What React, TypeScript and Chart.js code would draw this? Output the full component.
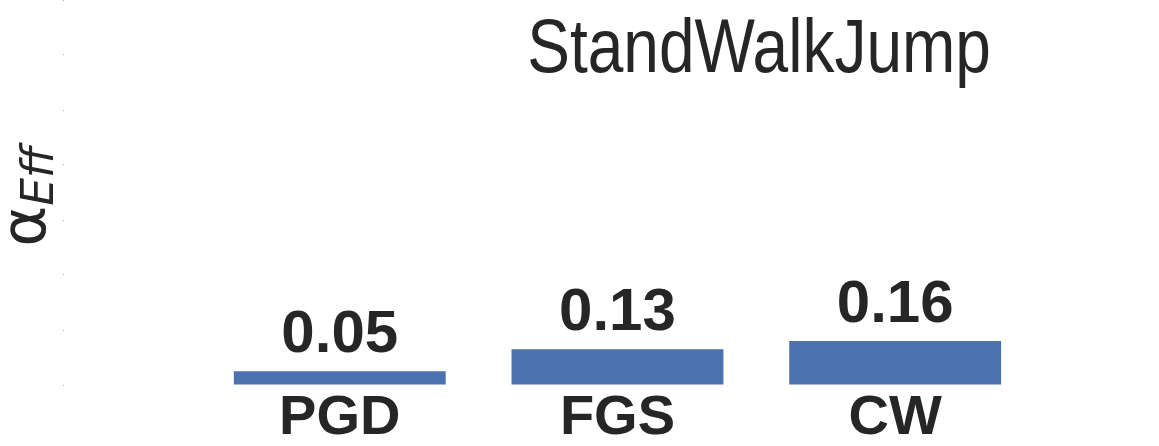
import React, { useEffect, useRef } from 'react';
import { Chart, registerables } from 'chart.js';

Chart.register(...registerables);

const categories = ['PGD', 'FGS', 'CW'];
const values = [0.05, 0.13, 0.16];
const valueLabels = ['0.05', '0.13', '0.16'];
const yTicks = [0, 0.2, 0.4, 0.6, 0.8, 1.0, 1.2, 1.4];
const chartTitle = 'StandWalkJump';
const yLabelMain = 'α';
const yLabelSub = 'Eff';

const TEXT = '#262626';
const BAR = '#4c72b0';
const SANS = '"Liberation Sans", Arial, Helvetica, sans-serif';

const overlayPlugin = {
  id: 'overlay',
  afterDatasetsDraw(chart: any) {
    const ctx = chart.ctx;
    const area = chart.chartArea;
    const meta = chart.getDatasetMeta(0);
    ctx.save();
    ctx.fillStyle = TEXT;
    // value labels
    ctx.font = `bold 60px ${SANS}`;
    ctx.textAlign = 'center';
    ctx.textBaseline = 'alphabetic';
    meta.data.forEach((bar: any, i: number) => {
      ctx.fillText(valueLabels[i], bar.x, bar.y - 19);
    });
    // title
    ctx.save();
    ctx.font = `64px ${SANS}`;
    const tx = chart.scales.x.getPixelForValue(1.51);
    ctx.translate(tx, area.top + 72);
    ctx.scale(1, 1.18);
    ctx.fillText(chartTitle, 0, 0);
    ctx.restore();
    // y label
    const cy = (area.top + area.bottom) / 2 + 4;
    ctx.font = '62px "DejaVu Sans"';
    const wMain = ctx.measureText(yLabelMain).width;
    ctx.font = 'italic 44px "DejaVu Sans"';
    const wSub = ctx.measureText(yLabelSub).width;
    const total = wMain + wSub;
    ctx.translate(45, cy);
    ctx.rotate(-Math.PI / 2);
    ctx.textAlign = 'left';
    ctx.font = '62px "DejaVu Sans"';
    ctx.fillText(yLabelMain, -total / 2, 0);
    ctx.font = 'italic 44px "DejaVu Sans"';
    ctx.fillText(yLabelSub, -total / 2 + wMain, 8);
    ctx.restore();
  },
};

export default function App() {
  const ref = useRef<HTMLCanvasElement | null>(null);
  useEffect(() => {
    if (!ref.current) return;
    const chart = new Chart(ref.current, {
      type: 'bar',
      data: {
        datasets: [
          {
            data: values.map((v, i) => ({ x: i, y: v })),
            backgroundColor: BAR,
            borderWidth: 0,
            categoryPercentage: 1,
            barPercentage: 0.763,
          },
        ],
      },
      options: {
        animation: false,
        responsive: true,
        maintainAspectRatio: false,
        layout: { padding: 0 },
        plugins: {
          legend: { display: false },
          title: { display: false },
          tooltip: { enabled: false },
        },
        scales: {
          x: {
            type: 'linear',
            min: -0.993,
            max: 2.95,
            offset: false,
            grid: { display: false, drawTicks: false },
            border: { display: false },
            afterBuildTicks: (scale: any) => {
              scale.ticks = categories.map((_, i) => ({ value: i }));
            },
            afterFit: (scale: any) => {
              scale.height = 61;
            },
            ticks: {
              autoSkip: false,
              maxRotation: 0,
              padding: 0,
              color: TEXT,
              font: { family: SANS, size: 56, weight: 'bold' },
              callback: (v: any) => categories[v] ?? '',
            },
          },
          y: {
            type: 'linear',
            min: 0,
            max: 1.4,
            afterBuildTicks: (scale: any) => {
              scale.ticks = yTicks.map((v) => ({ value: v }));
            },
            afterFit: (scale: any) => {
              scale.width = 64;
            },
            grid: {
              drawOnChartArea: false,
              drawTicks: true,
              tickLength: 1,
              color: '#b0b0b0',
            },
            border: { display: false },
            ticks: { display: false },
          },
        },
      } as any,
      plugins: [overlayPlugin],
    });
    return () => chart.destroy();
  }, []);
  return (
    <div style={{ position: 'absolute', left: 0, top: 0, width: 1159, height: 446, background: '#fff' }}>
      <canvas ref={ref} style={{ display: 'block' }} />
    </div>
  );
}
